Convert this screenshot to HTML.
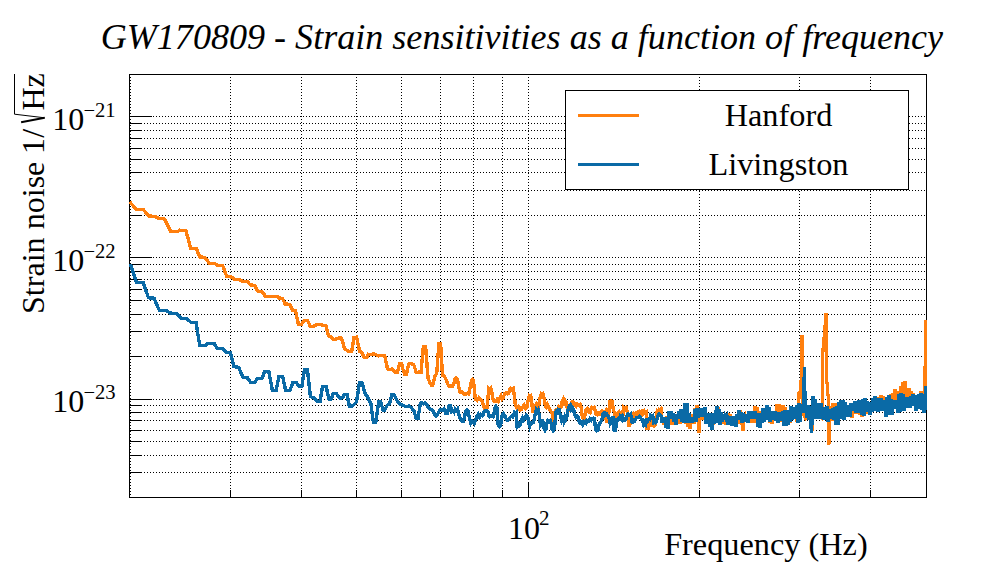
<!DOCTYPE html>
<html><head><meta charset="utf-8"><title>GW170809 - Strain sensitivities as a function of frequency</title>
<style>html,body{margin:0;padding:0;background:#fff}svg{display:block}</style></head>
<body>
<svg width="996" height="572" viewBox="0 0 996 572">
<rect x="0" y="0" width="996" height="572" fill="#fff"/>
<g stroke="#000" stroke-width="1" stroke-dasharray="1 2" shape-rendering="crispEdges" fill="none"><line x1="130.5" y1="74" x2="130.5" y2="497"/><line x1="230.5" y1="74" x2="230.5" y2="497"/><line x1="301.5" y1="74" x2="301.5" y2="497"/><line x1="356.5" y1="74" x2="356.5" y2="497"/><line x1="401.5" y1="74" x2="401.5" y2="497"/><line x1="440.5" y1="74" x2="440.5" y2="497"/><line x1="473.5" y1="74" x2="473.5" y2="497"/><line x1="502.5" y1="74" x2="502.5" y2="497"/><line x1="528.5" y1="74" x2="528.5" y2="497"/><line x1="699.5" y1="74" x2="699.5" y2="497"/><line x1="799.5" y1="74" x2="799.5" y2="497"/><line x1="870.5" y1="74" x2="870.5" y2="497"/><line x1="129" y1="472.5" x2="926" y2="472.5"/><line x1="129" y1="455.5" x2="926" y2="455.5"/><line x1="129" y1="441.5" x2="926" y2="441.5"/><line x1="129" y1="430.5" x2="926" y2="430.5"/><line x1="129" y1="420.5" x2="926" y2="420.5"/><line x1="129" y1="412.5" x2="926" y2="412.5"/><line x1="129" y1="405.5" x2="926" y2="405.5"/><line x1="129" y1="399.5" x2="926" y2="399.5"/><line x1="129" y1="356.5" x2="926" y2="356.5"/><line x1="129" y1="331.5" x2="926" y2="331.5"/><line x1="129" y1="314.5" x2="926" y2="314.5"/><line x1="129" y1="300.5" x2="926" y2="300.5"/><line x1="129" y1="289.5" x2="926" y2="289.5"/><line x1="129" y1="279.5" x2="926" y2="279.5"/><line x1="129" y1="271.5" x2="926" y2="271.5"/><line x1="129" y1="264.5" x2="926" y2="264.5"/><line x1="129" y1="257.5" x2="926" y2="257.5"/><line x1="129" y1="215.5" x2="926" y2="215.5"/><line x1="129" y1="190.5" x2="926" y2="190.5"/><line x1="129" y1="172.5" x2="926" y2="172.5"/><line x1="129" y1="159.5" x2="926" y2="159.5"/><line x1="129" y1="148.5" x2="926" y2="148.5"/><line x1="129" y1="138.5" x2="926" y2="138.5"/><line x1="129" y1="130.5" x2="926" y2="130.5"/><line x1="129" y1="123.5" x2="926" y2="123.5"/><line x1="129" y1="116.5" x2="926" y2="116.5"/></g>
<g stroke="#000" stroke-width="1" shape-rendering="crispEdges" fill="none"><rect x="129.5" y="74.5" width="797.0" height="423.0" fill="none"/><line x1="230.5" y1="497" x2="230.5" y2="490"/><line x1="301.5" y1="497" x2="301.5" y2="490"/><line x1="356.5" y1="497" x2="356.5" y2="490"/><line x1="401.5" y1="497" x2="401.5" y2="490"/><line x1="440.5" y1="497" x2="440.5" y2="490"/><line x1="473.5" y1="497" x2="473.5" y2="490"/><line x1="502.5" y1="497" x2="502.5" y2="490"/><line x1="528.5" y1="497" x2="528.5" y2="482"/><line x1="699.5" y1="497" x2="699.5" y2="490"/><line x1="799.5" y1="497" x2="799.5" y2="490"/><line x1="870.5" y1="497" x2="870.5" y2="490"/><line x1="129" y1="472.5" x2="142" y2="472.5"/><line x1="129" y1="455.5" x2="142" y2="455.5"/><line x1="129" y1="441.5" x2="142" y2="441.5"/><line x1="129" y1="430.5" x2="142" y2="430.5"/><line x1="129" y1="420.5" x2="142" y2="420.5"/><line x1="129" y1="412.5" x2="142" y2="412.5"/><line x1="129" y1="405.5" x2="142" y2="405.5"/><line x1="129" y1="399.5" x2="152" y2="399.5"/><line x1="129" y1="356.5" x2="142" y2="356.5"/><line x1="129" y1="331.5" x2="142" y2="331.5"/><line x1="129" y1="314.5" x2="142" y2="314.5"/><line x1="129" y1="300.5" x2="142" y2="300.5"/><line x1="129" y1="289.5" x2="142" y2="289.5"/><line x1="129" y1="279.5" x2="142" y2="279.5"/><line x1="129" y1="271.5" x2="142" y2="271.5"/><line x1="129" y1="264.5" x2="142" y2="264.5"/><line x1="129" y1="257.5" x2="152" y2="257.5"/><line x1="129" y1="215.5" x2="142" y2="215.5"/><line x1="129" y1="190.5" x2="142" y2="190.5"/><line x1="129" y1="172.5" x2="142" y2="172.5"/><line x1="129" y1="159.5" x2="142" y2="159.5"/><line x1="129" y1="148.5" x2="142" y2="148.5"/><line x1="129" y1="138.5" x2="142" y2="138.5"/><line x1="129" y1="130.5" x2="142" y2="130.5"/><line x1="129" y1="123.5" x2="142" y2="123.5"/><line x1="129" y1="116.5" x2="152" y2="116.5"/></g>
<clipPath id="fr"><rect x="129" y="74" width="798" height="424"/></clipPath><g clip-path="url(#fr)">
<path d="M129.8,202.1 L136.5,209.3 L143.1,209.3 L148.5,215.9 L155.2,216.5 L158.2,218.3 L164.2,218.7 L170.8,231.3 L178.1,231.3 L179.3,230.2 L185.9,230.4 L190.7,248.3 L196.2,248.3 L199.8,257.1 L204.7,257.3 L209.5,263.3 L214.9,263.7 L217.9,265.5 L222.7,265.7 L226.6,276.1 L230.6,276.6 L234.8,279.4 L239.0,279.6 L242.6,281.2 L246.9,281.2 L250.5,285.0 L254.7,285.4 L257.7,291.1 L261.9,291.4 L265.6,296.5 L277.0,296.5 L279.4,298.1 L282.5,298.4 L285.2,304.1 L289.7,304.3 L292.4,310.1 L295.4,310.4 L298.4,324.3 L301.5,324.3 L304.2,320.3 L307.5,320.3 L310.3,326.4 L313.5,326.4 L317.1,324.3 L320.8,324.3 L322.6,325.2 L325.9,325.2 L328.6,336.0 L330.4,336.6 L333.4,339.4 L336.4,339.0 L338.3,338.1 L341.6,338.2 L344.5,349.0 L346.8,350.1 L349.1,351.5 L351.8,351.1 L353.9,337.5 L356.6,337.2 L359.7,351.7 L361.8,352.3 L364.2,357.1 L366.6,357.5 L368.4,354.3 L370.8,354.6 L373.2,354.0 L375.6,354.3 L377.1,355.4 L378.7,355.9 L380.2,355.3 L381.7,355.3 L383.1,355.8 L384.6,355.5 L386.1,361.9 L387.5,368.8 L389.8,369.4 L392.1,369.0 L393.6,370.2 L395.1,372.4 L397.5,372.4 L399.5,364.0 L401.7,364.0 L403.0,369.5 L404.4,373.8 L406.5,373.8 L408.7,364.0 L410.1,363.2 L411.6,363.7 L413.8,364.9 L416.2,372.2 L417.8,372.8 L419.4,371.6 L421.0,372.2 L423.4,346.5 L425.6,346.5 L428.0,377.8 L429.6,382.0 L431.3,385.1 L432.8,385.1 L434.9,376.0 L436.7,373.6 L438.9,343.4 L440.6,343.4 L442.5,375.4 L444.1,375.9 L445.7,378.7 L447.4,383.2 L449.0,386.3 L450.8,385.6 L452.6,386.3 L453.8,383.5 L455.0,379.0 L456.2,378.1 L457.4,379.0 L458.8,386.7 L460.2,392.3 L461.7,391.7 L463.2,392.7 L464.5,394.3 L465.9,394.4 L467.3,393.2 L468.7,393.9 L470.0,388.2 L471.4,380.8 L472.4,379.6 L473.5,380.8 L475.4,399.3 L477.1,400.3 L478.8,397.9 L480.5,399.7 L482.3,401.2 L483.4,406.1 L484.4,408.0 L485.7,406.8 L487.0,407.5 L488.8,388.6 L489.9,389.7 L490.9,388.6 L491.9,392.5 L493.0,398.9 L494.4,401.4 L495.8,401.3 L497.1,399.2 L498.4,400.9 L499.7,398.0 L501.0,395.7 L502.2,398.8 L503.5,397.1 L504.8,393.4 L506.0,392.6 L507.4,393.9 L508.8,393.1 L509.7,389.7 L510.6,388.4 L511.9,389.7 L513.2,388.4 L514.3,395.7 L515.4,405.5 L516.8,407.9 L518.3,406.5 L519.1,407.3 L520.0,410.3 L521.4,409.6 L522.7,407.0 L524.1,405.0 L525.6,408.5 L527.0,407.0 L528.0,400.9 L529.1,397.1 L530.0,398.7 L530.9,397.1 L531.8,403.1 L532.7,411.0 L533.9,410.7 L535.1,407.4 L536.3,404.6 L537.6,407.7 L538.8,405.0 L540.0,397.8 L541.2,394.1 L542.1,395.3 L543.0,394.1 L544.2,398.8 L545.4,406.2 L546.4,407.3 L547.4,404.4 L548.4,406.2 L549.6,410.1 L550.8,411.0 L552.0,412.9 L553.2,418.3 L554.2,416.8 L555.2,411.5 L556.2,409.8 L557.4,411.2 L558.7,407.0 L559.9,408.6 L561.1,406.6 L562.3,400.8 L563.3,399.0 L564.3,402.6 L565.3,400.8 L566.3,402.1 L567.3,408.0 L568.3,409.8 L569.3,405.9 L570.3,406.3 L571.3,402.6 L572.5,401.7 L573.7,402.6 L575.0,405.3 L576.2,406.2 L577.1,404.1 L578.0,404.4 L579.1,405.6 L580.2,404.5 L581.1,407.2 L581.9,414.7 L582.8,417.2 L583.6,416.1 L584.4,417.2 L585.2,415.0 L586.0,409.9 L587.2,408.5 L588.4,409.9 L589.2,412.5 L590.0,412.7 L590.9,409.3 L591.7,407.5 L592.9,408.2 L594.1,407.5 L595.1,410.0 L596.1,413.9 L597.2,414.6 L598.2,413.2 L599.3,413.9 L600.1,413.9 L600.9,411.9 L602.1,410.8 L603.3,411.9 L604.3,412.8 L605.3,411.5 L606.5,422.4 L607.7,412.3 L608.8,413.1 L609.7,401.5 L611.0,400.6 L612.2,401.5 L612.9,407.1 L613.6,410.7 L614.7,413.1 L615.5,420.4 L616.6,417.2 L617.8,412.7 L618.9,411.6 L619.9,413.3 L621.0,412.7 L621.8,414.0 L622.6,417.2 L623.8,407.5 L625.0,408.6 L626.2,407.5 L627.4,413.1 L628.6,425.2 L629.8,425.2 L630.6,420.9 L631.4,418.8 L632.0,417.8 L632.7,414.7 L633.6,413.8 L634.5,415.4 L635.4,413.6 L636.3,414.7 L637.5,412.7 L638.4,413.5 L639.4,411.6 L640.3,412.7 L641.5,414.3 L642.3,411.9 L643.3,413.1 L644.3,411.1 L645.3,412.7 L646.3,411.9 L647.1,428.4 L648.3,428.4 L649.5,422.8 L650.4,422.4 L651.4,425.4 L652.3,425.2 L653.3,424.5 L654.2,425.8 L655.2,425.2 L656.2,417.7 L657.2,411.5 L658.1,412.4 L659.1,409.9 L660.0,410.7 L661.0,409.5 L662.0,420.6 L663.0,416.9 L664.0,424.9 L665.0,417.6 L666.0,425.0 L667.0,415.7 L668.0,427.2 L669.0,413.6 L670.0,416.3 L671.0,414.7 L672.0,424.9 L673.0,415.7 L674.0,423.2 L675.0,415.6 L676.0,422.2 L677.0,415.4 L678.0,423.5 L679.0,412.7 L680.0,423.5 L681.0,412.7 L682.0,421.2 L683.0,411.5 L684.0,420.9 L685.0,406.4 L686.0,424.3 L687.0,404.8 L688.0,426.9 L689.0,414.3 L690.0,428.7 L691.0,414.5 L692.0,423.8 L693.0,419.4 L694.0,423.4 L695.0,407.7 L696.0,420.1 L697.0,404.7 L698.4,418.0 L698.9,432.5 L699.6,416.0 L700.5,410.1 L701.5,414.2 L702.5,410.8 L703.5,420.0 L704.5,410.7 L705.5,420.9 L706.5,416.4 L707.5,422.1 L708.5,416.3 L709.5,424.6 L710.5,416.8 L711.5,428.0 L712.5,414.4 L713.5,424.4 L714.5,415.8 L715.5,419.3 L716.5,408.4 L717.5,421.1 L718.5,407.1 L719.5,420.6 L720.5,414.9 L721.5,420.6 L722.5,415.7 L723.5,423.4 L724.5,419.7 L725.5,424.7 L726.5,419.5 L727.5,423.2 L728.5,412.7 L729.5,422.1 L730.5,414.5 L731.5,424.4 L732.5,419.6 L733.5,423.3 L734.5,418.8 L735.5,425.4 L736.5,417.6 L737.5,423.2 L738.5,411.7 L739.5,423.4 L740.5,410.2 L741.5,424.6 L742.4,420.0 L743.2,430.5 L744.0,419.0 L745.0,416.3 L746.0,420.9 L747.0,416.5 L748.0,421.2 L749.0,412.4 L750.0,418.2 L751.0,414.2 L752.0,423.0 L753.0,413.9 L754.0,422.7 L755.0,405.7 L756.0,417.3 L757.0,407.2 L758.0,424.9 L759.0,411.6 L760.0,426.4 L761.0,412.2 L762.0,420.6 L763.0,411.6 L764.0,420.2 L765.0,409.5 L766.0,418.5 L767.0,407.3 L768.0,417.0 L769.0,409.2 L770.0,422.9 L771.0,411.0 L772.0,424.1 L773.0,412.2 L774.0,417.2 L775.0,413.8 L776.0,419.3 L777.0,403.9 L778.0,422.1 L779.0,404.3 L780.0,422.0 L781.0,405.9 L782.0,418.1 L783.0,405.6 L784.0,422.6 L785.0,406.9 L786.0,423.9 L787.0,412.7 L788.0,422.6 L789.0,412.8 L790.0,423.1 L791.0,409.5 L792.0,417.5 L793.0,409.5 L794.0,414.0 L795.0,413.7 L796.0,417.2 L797.6,414.0 L798.7,406.0 L798.7,392.3 L799.6,399.0 L800.0,392.0 L800.6,391.5 L800.7,381.5 L801.5,380.5 L801.7,336.6 L802.5,336.6 L802.7,400.0 L803.6,414.5 L805.5,418.0 L807.0,416.0 L808.0,419.0 L809.0,409.0 L810.0,419.2 L811.0,409.1 L812.0,430.7 L813.0,397.5 L814.0,416.9 L815.0,400.6 L816.0,415.3 L817.0,407.3 L818.0,417.2 L819.0,405.4 L820.0,416.8 L821.6,418.0 L822.3,410.0 L822.5,356.0 L823.4,346.0 L824.9,330.0 L826.0,313.5 L826.5,330.0 L826.5,360.0 L826.6,382.0 L827.3,384.0 L827.4,393.0 L828.5,396.0 L828.8,444.5 L829.4,430.0 L830.0,414.0 L831.0,406.6 L832.0,420.8 L833.0,403.4 L834.0,420.7 L835.0,403.0 L836.0,423.3 L837.0,404.8 L838.0,422.4 L839.0,402.5 L840.0,416.6 L841.0,403.4 L842.0,416.2 L843.0,402.7 L844.0,418.0 L845.0,402.4 L846.0,414.7 L847.0,409.2 L848.0,414.3 L849.0,408.3 L850.0,414.7 L851.0,403.0 L852.0,417.7 L853.0,403.7 L854.0,413.8 L855.0,403.9 L856.0,413.9 L857.0,402.0 L858.0,413.4 L859.0,400.7 L860.0,415.3 L861.0,405.1 L862.0,416.5 L863.0,400.7 L864.0,413.9 L865.0,401.5 L866.0,411.5 L867.0,402.5 L868.0,413.9 L869.0,404.6 L870.0,411.8 L871.0,403.9 L872.0,409.4 L873.0,399.9 L874.0,409.7 L875.0,398.6 L876.0,407.7 L877.0,400.9 L878.0,410.0 L879.0,397.3 L880.0,411.2 L881.0,395.5 L882.0,406.4 L883.0,395.7 L884.0,409.3 L885.0,400.8 L886.0,414.6 L887.0,399.0 L888.0,410.0 L889.0,398.3 L890.0,412.8 L891.0,393.8 L892.0,413.9 L893.0,393.3 L894.0,404.8 L895.0,389.4 L896.0,407.8 L897.0,392.4 L898.0,411.2 L899.0,390.7 L900.0,409.2 L901.0,386.2 L902.0,409.3 L903.0,382.5 L904.0,409.2 L905.0,381.0 L906.0,401.2 L907.0,390.3 L908.0,404.2 L909.0,388.3 L910.0,404.5 L911.0,391.4 L912.0,402.0 L913.0,393.5 L914.0,402.8 L915.0,395.2 L916.0,409.5 L917.0,397.4 L918.0,405.5 L919.0,396.7 L920.0,406.7 L921.0,391.5 L922.0,409.1 L923.0,392.0 L924.0,409.9 L925.0,392.0 L925.6,320.5 L926.3,392.0" fill="none" stroke="#ff7f0e" stroke-width="3.4" stroke-linejoin="miter" stroke-linecap="butt" shape-rendering="crispEdges"/>
<path d="M130.4,264.0 L136.5,282.1 L143.1,282.5 L148.5,297.8 L154.0,298.2 L159.4,310.5 L166.0,310.5 L170.2,313.1 L176.3,313.5 L181.1,318.3 L185.9,318.3 L191.3,322.5 L196.0,322.7 L199.7,345.2 L205.7,345.2 L208.1,343.2 L214.1,343.2 L217.1,348.6 L222.6,348.8 L226.8,352.5 L230.4,352.5 L234.0,366.7 L238.7,367.3 L242.9,377.1 L247.2,377.6 L250.7,382.5 L254.9,382.5 L257.3,378.5 L262.1,378.2 L264.6,371.3 L268.8,371.3 L272.4,390.6 L276.0,390.6 L279.0,376.5 L282.6,376.5 L285.7,390.6 L289.9,390.6 L292.9,382.5 L296.5,382.5 L298.9,386.4 L301.9,386.4 L304.4,369.5 L307.4,369.5 L310.4,396.6 L314.0,397.8 L317.0,401.4 L320.0,401.4 L322.5,386.6 L326.1,386.6 L329.1,399.4 L330.9,399.4 L333.3,393.6 L336.3,393.6 L338.1,395.9 L339.9,398.2 L342.4,397.8 L344.2,394.6 L347.0,394.5 L349.4,406.4 L351.8,406.4 L354.1,404.4 L356.5,402.1 L359.5,382.2 L361.9,382.2 L364.9,393.1 L367.3,396.7 L369.1,400.0 L370.9,403.9 L373.3,422.0 L375.8,422.0 L377.3,411.9 L378.8,401.5 L380.6,401.5 L383.0,410.0 L384.8,410.0 L387.2,405.2 L389.6,403.3 L392.0,394.5 L393.9,394.5 L395.4,397.0 L396.9,400.3 L398.7,402.8 L400.5,404.6 L402.9,405.2 L405.3,406.4 L407.1,406.6 L408.9,405.8 L411.3,407.6 L413.8,410.6 L416.2,418.4 L418.0,418.4 L420.4,403.3 L422.0,402.6 L423.6,403.6 L425.2,402.7 L426.7,404.6 L428.2,407.6 L430.0,409.4 L431.9,410.0 L433.4,411.6 L434.9,414.8 L436.1,415.9 L437.3,414.8 L438.8,411.7 L440.3,410.0 L442.1,410.2 L443.9,408.8 L445.7,413.0 L447.5,413.0 L449.0,405.8 L450.6,405.8 L451.6,411.5 L452.8,410.7 L454.0,412.3 L455.2,409.1 L456.4,410.7 L457.6,409.1 L459.6,417.2 L461.7,420.8 L463.7,420.8 L465.7,411.1 L466.9,409.8 L468.1,411.1 L469.5,418.5 L470.9,423.6 L472.5,421.8 L474.1,423.6 L475.5,420.6 L476.9,415.9 L478.2,414.2 L479.5,417.0 L480.9,414.9 L482.2,415.9 L483.2,414.7 L484.2,411.5 L486.0,410.3 L487.8,411.5 L488.8,415.9 L489.8,416.8 L491.4,415.8 L493.0,416.8 L494.0,413.8 L495.0,407.9 L496.0,406.3 L497.0,407.9 L498.2,425.2 L499.4,426.5 L500.6,425.2 L502.3,414.7 L503.5,413.6 L504.7,415.5 L506.3,419.2 L507.5,420.2 L508.7,419.2 L510.3,417.2 L511.5,416.0 L512.7,416.8 L514.3,412.7 L515.3,413.9 L516.3,412.7 L517.1,426.0 L518.1,424.3 L519.1,426.0 L520.3,424.6 L521.5,420.4 L522.6,418.0 L523.7,419.9 L524.8,417.2 L526.2,415.3 L527.6,416.4 L528.7,422.5 L529.7,426.1 L530.9,422.8 L532.1,423.1 L533.3,422.4 L534.5,418.3 L535.4,412.8 L536.3,409.8 L537.2,411.4 L538.2,409.8 L539.4,416.1 L540.6,425.5 L541.5,424.4 L542.4,419.5 L543.3,422.5 L544.2,429.1 L545.1,430.4 L546.0,429.1 L546.9,422.9 L547.8,420.7 L549.0,421.8 L550.2,420.7 L551.1,423.5 L552.0,429.1 L553.2,430.9 L554.4,429.1 L555.3,419.3 L556.2,411.6 L557.2,412.5 L558.3,409.4 L559.3,409.8 L560.5,416.9 L561.7,420.7 L562.7,418.5 L563.6,421.3 L564.6,417.4 L565.5,420.0 L566.5,418.3 L567.7,411.2 L568.9,407.4 L569.9,408.8 L570.9,405.5 L571.9,406.8 L572.9,410.8 L573.9,410.2 L574.9,414.6 L576.1,417.4 L577.4,416.4 L578.4,417.2 L579.4,422.4 L580.4,423.1 L581.5,422.2 L582.6,424.4 L583.7,421.6 L584.8,422.8 L585.9,423.6 L586.9,420.2 L588.0,420.8 L589.0,421.1 L590.0,419.0 L591.1,420.3 L592.1,418.8 L593.3,418.2 L594.5,418.8 L595.7,430.0 L596.9,430.8 L598.1,430.0 L598.9,425.7 L599.7,422.8 L600.7,422.2 L601.7,420.4 L602.9,414.3 L603.8,413.5 L604.7,414.9 L605.6,413.1 L606.5,413.5 L607.5,415.7 L608.5,416.4 L609.3,419.2 L610.1,423.6 L611.0,421.9 L611.8,418.0 L612.8,417.4 L613.8,418.0 L614.2,430.0 L615.4,430.0 L616.2,426.0 L617.0,420.4 L618.2,418.7 L619.4,418.8 L620.2,415.9 L621.2,417.0 L622.2,415.9 L623.0,420.4 L624.0,419.3 L625.0,420.4 L625.8,419.9 L626.6,417.2 L627.4,414.8 L628.2,413.9 L629.4,414.7 L630.6,413.9 L631.5,418.0 L632.3,423.6 L633.5,420.4 L634.5,421.1 L635.5,419.6 L636.5,417.2 L637.5,417.2 L638.5,417.4 L639.5,416.4 L640.5,417.3 L641.5,419.6 L642.3,420.7 L643.1,420.4 L643.9,425.2 L644.7,424.5 L645.5,425.2 L646.7,420.4 L647.8,421.0 L648.8,418.9 L649.9,419.6 L650.7,415.5 L651.8,416.2 L652.8,415.5 L653.6,422.8 L654.4,422.3 L655.2,422.8 L656.2,421.6 L657.2,418.8 L658.4,414.7 L659.2,413.9 L660.0,414.7 L661.0,415.7 L662.0,422.9 L663.0,417.1 L664.0,421.5 L665.0,417.3 L666.0,427.8 L667.0,416.8 L668.0,429.3 L669.0,411.4 L670.0,418.3 L671.0,411.3 L672.0,418.8 L673.0,413.1 L674.0,421.4 L675.0,413.9 L676.0,424.4 L677.0,414.0 L678.0,419.1 L679.0,411.6 L680.0,419.1 L681.0,409.6 L682.0,422.2 L683.0,410.2 L684.0,423.0 L685.0,402.9 L686.0,418.8 L687.0,403.4 L688.0,422.5 L689.0,413.1 L690.0,422.7 L691.0,418.0 L692.0,422.3 L693.0,416.9 L694.0,422.0 L695.0,408.7 L696.0,421.4 L697.0,408.4 L698.0,418.1 L699.0,407.7 L700.0,417.3 L701.0,408.0 L702.0,417.1 L703.0,408.2 L704.0,415.6 L705.0,407.2 L706.0,423.5 L707.0,414.1 L708.0,423.5 L709.0,413.2 L710.0,426.5 L711.0,414.3 L712.0,430.3 L713.0,413.6 L714.0,423.9 L715.0,414.6 L716.0,416.4 L717.0,406.5 L718.0,422.7 L719.0,408.9 L720.0,424.4 L721.0,412.4 L722.0,422.2 L723.0,413.8 L724.0,419.9 L725.0,416.2 L726.0,418.7 L727.0,416.3 L728.0,425.2 L729.0,416.7 L730.0,422.8 L731.0,416.2 L732.0,425.6 L733.0,417.2 L734.0,425.5 L735.0,416.6 L736.0,426.5 L737.0,414.2 L738.0,418.9 L739.0,410.7 L740.0,419.6 L741.0,411.7 L742.0,422.4 L743.0,413.3 L744.0,422.0 L745.0,414.4 L746.0,421.8 L747.0,414.1 L748.0,422.8 L749.0,411.1 L750.0,418.8 L751.0,411.3 L752.0,418.8 L753.0,411.4 L754.0,419.1 L755.0,411.6 L756.0,418.9 L757.0,412.8 L758.0,427.0 L759.0,414.5 L760.0,428.2 L761.0,413.1 L762.0,422.6 L763.0,408.6 L764.0,421.8 L765.0,408.6 L766.0,420.2 L767.0,405.1 L768.0,419.7 L769.0,407.1 L770.0,422.0 L771.0,411.2 L772.0,420.3 L773.0,411.1 L774.0,420.2 L775.0,411.4 L776.0,420.8 L777.0,412.0 L778.0,422.7 L779.0,413.2 L780.0,420.6 L781.0,412.5 L782.0,419.5 L783.0,410.9 L784.0,426.2 L785.0,410.5 L786.0,425.5 L787.0,410.4 L788.0,424.6 L789.0,412.1 L790.0,421.5 L791.0,405.9 L792.0,419.8 L793.0,407.1 L794.0,416.8 L795.0,411.3 L796.0,418.8 L797.0,405.5 L798.0,422.6 L799.0,402.9 L800.0,422.4 L801.0,404.1 L803.0,413.0 L804.0,390.0 L804.4,367.5 L804.7,389.0 L805.5,402.0 L806.3,413.0 L807.2,418.0 L808.0,405.1 L809.0,419.4 L810.0,406.6 L810.8,418.0 L811.4,433.3 L812.2,418.0 L813.0,396.0 L814.0,417.2 L815.0,398.8 L816.0,418.7 L817.0,404.7 L818.0,419.3 L819.0,402.7 L820.0,418.3 L821.0,402.7 L822.0,419.2 L823.0,408.2 L824.0,420.3 L825.0,407.4 L826.0,419.8 L827.0,405.8 L828.0,421.7 L829.0,408.8 L830.0,419.1 L831.0,410.2 L832.0,418.2 L833.0,407.8 L834.0,419.4 L835.0,407.5 L836.0,425.1 L837.0,406.4 L838.0,425.2 L839.0,401.9 L840.0,418.2 L841.0,400.5 L842.0,418.8 L843.0,399.8 L844.0,419.7 L845.0,402.6 L846.0,416.2 L847.0,406.8 L848.0,416.5 L849.0,405.6 L850.0,416.5 L851.0,402.8 L852.0,410.9 L853.0,402.9 L854.0,411.0 L855.0,400.9 L856.0,412.6 L857.0,400.8 L858.0,412.7 L859.0,399.9 L860.0,412.3 L861.0,402.6 L862.0,415.3 L863.0,399.3 L864.0,416.2 L865.0,398.5 L866.0,411.5 L867.0,400.8 L868.0,412.2 L869.0,401.8 L870.0,414.7 L871.0,402.8 L872.0,411.6 L873.0,398.3 L874.0,410.9 L875.0,396.3 L876.0,410.7 L877.0,398.5 L878.0,411.4 L879.0,401.2 L880.0,410.9 L881.0,398.1 L882.0,407.8 L883.0,400.5 L884.0,411.1 L885.0,402.9 L886.0,417.0 L887.0,396.7 L888.0,411.6 L889.0,395.2 L890.0,415.3 L891.0,399.4 L892.0,414.8 L893.0,400.7 L894.0,407.6 L895.0,399.9 L896.0,409.3 L897.0,400.8 L898.0,412.9 L899.0,393.8 L900.0,411.9 L901.0,393.2 L902.0,409.1 L903.0,393.8 L904.0,411.3 L905.0,397.5 L906.0,402.8 L907.0,398.2 L908.0,408.3 L909.0,397.3 L910.0,407.7 L911.0,396.1 L912.0,404.3 L913.0,393.7 L914.0,406.1 L915.0,396.0 L916.0,410.8 L917.0,395.5 L918.0,408.4 L919.0,394.1 L920.0,407.2 L921.0,393.1 L922.0,410.1 L923.0,393.8 L924.0,412.8 L925.0,408.5 L925.6,386.5 L926.2,410.0 L926.5,403.0" fill="none" stroke="#0a6aa6" stroke-width="3.4" stroke-linejoin="miter" stroke-linecap="butt" shape-rendering="crispEdges"/>
</g>
<rect x="565.5" y="90.5" width="343" height="99" fill="#fff" stroke="#000" stroke-width="1" shape-rendering="crispEdges"/>
<line x1="578" y1="115.5" x2="639" y2="115.5" stroke="#ff7f0e" stroke-width="3"/>
<line x1="578" y1="164.5" x2="639" y2="164.5" stroke="#0a6aa6" stroke-width="3"/>
<g font-family="'Liberation Serif', 'Times New Roman', serif" fill="#000">
<text x="778.5" y="125.7" font-size="32.3" text-anchor="middle">Hanford</text>
<text x="778.5" y="174.5" font-size="32.3" text-anchor="middle">Livingston</text>
<text x="521.9" y="49" font-size="36.1" font-style="italic" text-anchor="middle">GW170809 - Strain sensitivities as a function of frequency</text>
<text x="507.9" y="539.2" font-size="32">10</text><text x="539" y="524.8" font-size="21">2</text>
<text x="867.7" y="555.4" font-size="32.3" text-anchor="end">Frequency (Hz)</text>
<text x="52.3" y="130.2" font-size="32">10</text><text x="83.4" y="117.2" font-size="20.6">−21</text>
<text x="52.3" y="271.3" font-size="32">10</text><text x="83.4" y="258.3" font-size="20.6">−22</text>
<text x="52.3" y="412.4" font-size="32">10</text><text x="83.4" y="399.4" font-size="20.6">−23</text>
<g transform="translate(44,314) rotate(-90)" font-size="32.1"><text x="0" y="0">Strain noise</text><text x="160.1" y="0">1/</text><text x="203.4" y="0" font-size="32">Hz</text><path d="M196.2,0.7 L199.8,-29.5 L240,-29.5" fill="none" stroke="#000" stroke-width="1"/><path d="M191.8,-22.9 L196.2,0.7" stroke="#000" stroke-width="2" fill="none"/></g>
</g>
</svg>
</body></html>
